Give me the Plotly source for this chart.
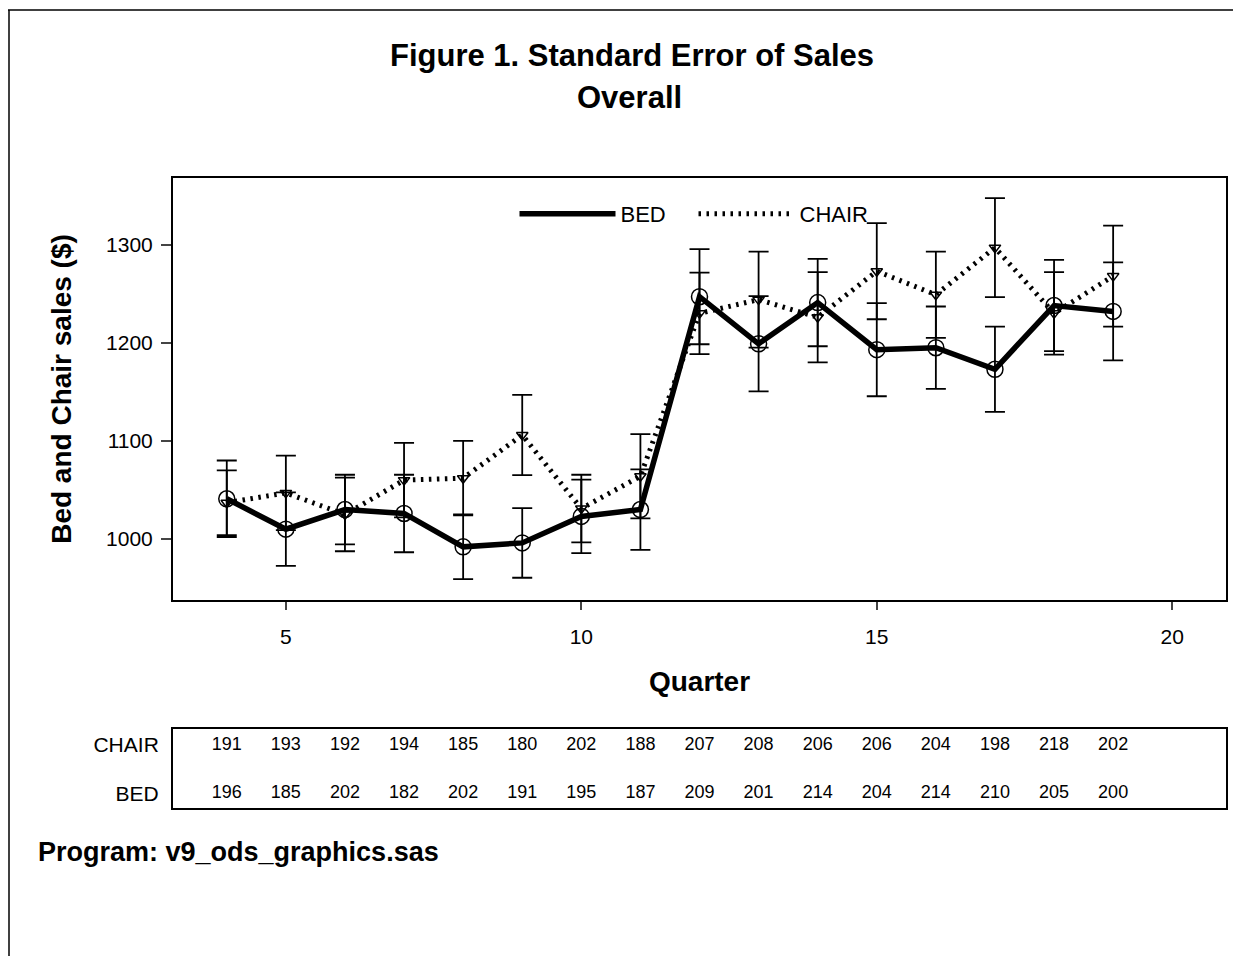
import plotly.graph_objects as go

quarters = [4, 5, 6, 7, 8, 9, 10, 11, 12, 13, 14, 15, 16, 17, 18, 19]
bed_sales = [1041, 1010, 1030, 1026, 992, 996, 1023, 1030, 1247, 1199, 1241, 1193, 1195, 1173, 1238, 1232]
bed_se = [39, 37.5, 35.5, 39.5, 33, 35.5, 37.5, 41, 48.5, 48.5, 44.5, 47.5, 42, 43.5, 46.5, 50]
chair_sales = [1037, 1047, 1025, 1060, 1062, 1106, 1031, 1064, 1230, 1244, 1226, 1273, 1249, 1297, 1230, 1268]
chair_se = [33, 38, 37.5, 38, 38, 41, 34.5, 43, 41.5, 49, 46, 49, 44, 50.5, 42, 51.5]
chair_n = [191, 193, 192, 194, 185, 180, 202, 188, 207, 208, 206, 206, 204, 198, 218, 202]
bed_n = [196, 185, 202, 182, 202, 191, 195, 187, 209, 201, 214, 204, 214, 210, 205, 200]
row_labels = ["BED", "CHAIR"]
x_ticks = [5, 10, 15, 20]
y_ticks = [1000, 1100, 1200, 1300]

FONT = "Liberation Sans, Arial, sans-serif"
OFF = 8  # page body margin offset
W, H = 1241 - OFF, 956 - OFF
L, R, T, B = 173 - OFF, 15, 178 - OFF, 148
PW, PH = W - L - R, H - T - B


def px(x):
    return (x - OFF - L) / PW


def py(y):
    return (H - B - (y - OFF)) / PH


fig = go.Figure()

fig.add_trace(go.Scatter(
    x=quarters, y=chair_sales, mode="lines", name="CHAIR",
    line=dict(color="black", width=5, dash="2.5px,5.5px"), legendrank=2,
))
fig.add_trace(go.Scatter(
    x=quarters, y=bed_sales, mode="lines", name="BED",
    line=dict(color="black", width=5.5), legendrank=1,
))
fig.add_trace(go.Scatter(
    x=quarters, y=chair_sales, mode="markers", showlegend=False,
    marker=dict(symbol="triangle-down-open", size=10, color="black", line=dict(width=1.5)),
    error_y=dict(type="data", array=chair_se, visible=True, color="black", thickness=1.8, width=10),
))
fig.add_trace(go.Scatter(
    x=quarters, y=bed_sales, mode="markers", showlegend=False,
    marker=dict(symbol="circle-open", size=16, color="black", line=dict(width=1.5)),
    error_y=dict(type="data", array=bed_se, visible=True, color="black", thickness=1.8, width=10),
))

# table of counts
fig.add_trace(go.Scatter(
    x=quarters, y=[1] * len(quarters), mode="text", text=[str(v) for v in chair_n],
    textfont=dict(family=FONT, size=18, color="black"), showlegend=False,
    xaxis="x2", yaxis="y2",
))
fig.add_trace(go.Scatter(
    x=quarters, y=[0] * len(quarters), mode="text", text=[str(v) for v in bed_n],
    textfont=dict(family=FONT, size=18, color="black"), showlegend=False,
    xaxis="x2", yaxis="y2",
))

xr = [3.09, 20.91]
fig.update_layout(
    width=W, height=H,
    margin=dict(l=L, r=R, t=T, b=B),
    paper_bgcolor="white", plot_bgcolor="white",
    font=dict(family=FONT, color="black"),
    xaxis=dict(
        domain=[0, 1], range=xr, anchor="y",
        tickvals=x_ticks, ticks="outside", ticklen=8, tickwidth=1.5,
        tickfont=dict(size=21), showgrid=False, zeroline=False,
        showline=True, linecolor="black", linewidth=2, mirror=True,
        ticklabelstandoff=9,
        title=dict(text="<b>Quarter</b>", font=dict(size=28), standoff=24),
    ),
    yaxis=dict(
        domain=[py(600), 1], range=[937.8, 1368], anchor="x",
        tickvals=y_ticks, ticks="outside", ticklen=10, tickwidth=1.5,
        tickfont=dict(size=21), showgrid=False, zeroline=False,
        showline=True, linecolor="black", linewidth=2, mirror=True,
        ticklabelstandoff=4,
        title=dict(text="<b>Bed and Chair sales ($)</b>", font=dict(size=28), standoff=26),
    ),
    xaxis2=dict(
        domain=[0, 1], range=xr, anchor="y2",
        showticklabels=False, ticks="", showgrid=False, zeroline=False,
        showline=True, linecolor="black", linewidth=2, mirror=True,
    ),
    yaxis2=dict(
        domain=[0, py(729)], range=[-0.286, 1.327], anchor="x2",
        tickvals=[0, 1], ticktext=row_labels, ticks="",
        tickfont=dict(size=21), showgrid=False, zeroline=False,
        showline=True, linecolor="black", linewidth=2, mirror=True,
        ticklabelstandoff=8,
    ),
    legend=dict(
        orientation="h", x=0.5 - 6 / PW, xanchor="center", y=py(214), yanchor="middle",
        font=dict(size=22), bgcolor="rgba(0,0,0,0)", itemwidth=96,
        entrywidth=68, traceorder="normal",
    ),
    showlegend=True,
    annotations=[
        dict(text="<b>Figure 1. Standard Error of Sales</b>", x=px(632), y=py(55),
             xref="paper", yref="paper", showarrow=False, xanchor="center", yanchor="middle",
             font=dict(size=31)),
        dict(text="<b>Overall</b>", x=px(629), y=py(97),
             xref="paper", yref="paper", showarrow=False, xanchor="center", yanchor="middle",
             font=dict(size=31)),
        dict(text="<b>Program: v9_ods_graphics.sas</b>", x=px(36), y=py(852),
             xref="paper", yref="paper", showarrow=False, xanchor="left", yanchor="middle",
             font=dict(size=27)),
    ],
    shapes=[
        dict(type="line", xref="paper", yref="paper", x0=px(8), x1=px(1241), y0=py(10), y1=py(10),
             line=dict(color="black", width=1.5)),
        dict(type="line", xref="paper", yref="paper", x0=px(9), x1=px(9), y0=py(10), y1=py(956),
             line=dict(color="black", width=1.5)),
    ],
)

fig.write_html("out.html")
